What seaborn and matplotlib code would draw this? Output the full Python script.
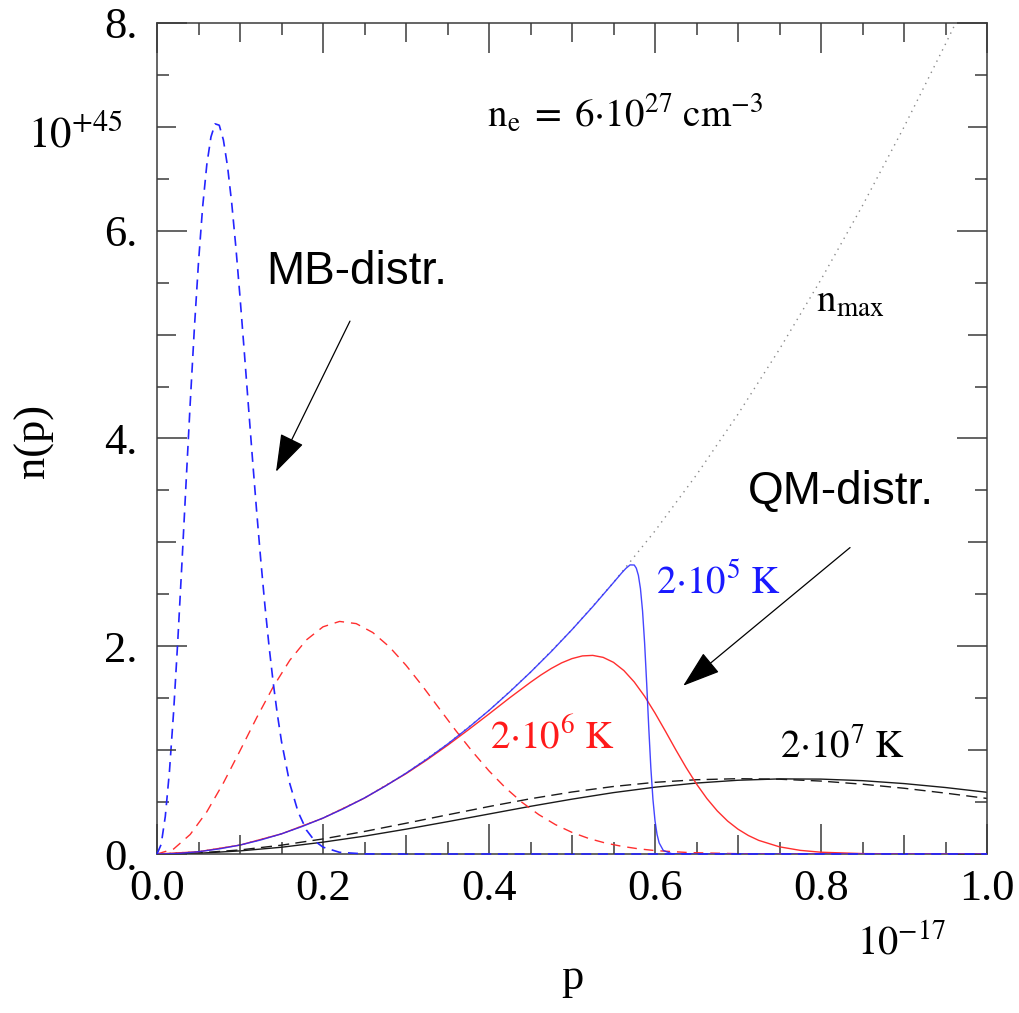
import matplotlib
matplotlib.use("Agg")
import matplotlib.pyplot as plt
from matplotlib.ticker import FixedLocator
import seaborn as sns

# momentum p in units of 1e-17 g cm/s, occupation n(p) in units of 1e+45
# Maxwell-Boltzmann, T = 2e5 K
p_mb5 = [0.0, 0.005, 0.01, 0.015, 0.02, 0.025, 0.03, 0.035, 0.04, 0.045, 0.05,
         0.055, 0.06, 0.065, 0.07, 0.075, 0.08, 0.085, 0.09, 0.095, 0.10,
         0.105, 0.11, 0.115, 0.12, 0.125, 0.13, 0.135, 0.14, 0.145, 0.15,
         0.16, 0.17, 0.18, 0.19, 0.20, 0.22, 0.25, 0.30, 0.4, 0.5, 0.6, 0.7,
         0.8, 0.9, 1.0]
n_mb5 = [0.0, 0.092, 0.362, 0.795, 1.367, 2.046, 2.793, 3.570, 4.338, 5.058,
         5.697, 6.230, 6.636, 6.903, 7.029, 7.016, 6.874, 6.619, 6.268, 5.843,
         5.363, 4.852, 4.328, 3.807, 3.305, 2.831, 2.394, 2.000, 1.650, 1.345,
         1.083, 0.677, 0.405, 0.231, 0.126, 0.066, 0.016, 0.001, 0.0, 0.0,
         0.0, 0.0, 0.0, 0.0, 0.0, 0.0]

# Maxwell-Boltzmann, T = 2e6 K
p_mb6 = [0.0, 0.02, 0.04, 0.06, 0.08, 0.10, 0.12, 0.14, 0.16, 0.18, 0.20,
         0.22, 0.24, 0.26, 0.28, 0.30, 0.32, 0.34, 0.36, 0.38, 0.40, 0.42,
         0.44, 0.46, 0.48, 0.50, 0.52, 0.54, 0.56, 0.58, 0.60, 0.64, 0.70,
         0.80, 0.90, 1.0]
n_mb6 = [0.0, 0.048, 0.188, 0.406, 0.684, 0.994, 1.311, 1.609, 1.865, 2.061,
         2.187, 2.239, 2.218, 2.132, 1.994, 1.817, 1.615, 1.401, 1.188, 0.986,
         0.800, 0.636, 0.496, 0.379, 0.283, 0.208, 0.150, 0.106, 0.074, 0.050,
         0.033, 0.014, 0.003, 0.0, 0.0, 0.0]

# Maxwell-Boltzmann, T = 2e7 K
p_mb7 = [0.0, 0.05, 0.10, 0.15, 0.20, 0.25, 0.30, 0.35, 0.40, 0.45, 0.50,
         0.55, 0.60, 0.65, 0.70, 0.75, 0.80, 0.85, 0.90, 0.95, 1.0]
n_mb7 = [0.0, 0.010, 0.039, 0.085, 0.145, 0.217, 0.296, 0.377, 0.457, 0.532,
         0.597, 0.650, 0.690, 0.715, 0.725, 0.720, 0.702, 0.672, 0.633, 0.586,
         0.535]

# maximal occupation n_max
p_max = [0.0, 0.05, 0.10, 0.15, 0.20, 0.25, 0.30, 0.35, 0.40, 0.45, 0.50,
         0.55, 0.60, 0.65, 0.70, 0.75, 0.80, 0.85, 0.90, 0.95, 0.962]
n_max = [0.0, 0.022, 0.086, 0.194, 0.346, 0.540, 0.778, 1.058, 1.382, 1.750,
         2.160, 2.614, 3.110, 3.650, 4.234, 4.860, 5.530, 6.242, 6.998, 7.798,
         7.996]

# Fermi-Dirac, T = 2e5 K
p_qm5 = [0.0, 0.025, 0.05, 0.075, 0.10, 0.125, 0.15, 0.175, 0.20, 0.225,
         0.25, 0.275, 0.30, 0.325, 0.35, 0.375, 0.40, 0.425, 0.45, 0.475,
         0.50, 0.525, 0.55, 0.555, 0.56, 0.565, 0.57, 0.575, 0.5775, 0.58,
         0.5825, 0.585, 0.5875, 0.59, 0.5925, 0.595, 0.5975, 0.60, 0.6025,
         0.605, 0.61, 0.62, 0.65, 0.8, 1.0]
n_qm5 = [0.0, 0.005, 0.022, 0.049, 0.086, 0.135, 0.194, 0.265, 0.346, 0.437,
         0.540, 0.653, 0.778, 0.913, 1.058, 1.215, 1.382, 1.561, 1.750, 1.949,
         2.160, 2.381, 2.613, 2.660, 2.707, 2.750, 2.783, 2.782, 2.751, 2.682,
         2.553, 2.340, 2.029, 1.637, 1.213, 0.829, 0.528, 0.320, 0.187,
         0.107, 0.034, 0.003, 0.0, 0.0, 0.0]

# Fermi-Dirac, T = 2e6 K
p_qm6 = [0.0, 0.05, 0.10, 0.15, 0.20, 0.25, 0.30, 0.325, 0.35, 0.375, 0.40,
         0.425, 0.45, 0.4625, 0.475, 0.4875, 0.50, 0.5125, 0.525, 0.5375,
         0.55, 0.5625, 0.575, 0.5875, 0.60, 0.6125, 0.625, 0.6375, 0.65,
         0.6625, 0.675, 0.6875, 0.70, 0.7125, 0.725, 0.75, 0.775, 0.80, 0.85,
         0.90, 1.0]
n_qm6 = [0.0, 0.022, 0.086, 0.194, 0.345, 0.538, 0.773, 0.905, 1.046, 1.195,
         1.348, 1.504, 1.653, 1.723, 1.786, 1.840, 1.881, 1.907, 1.912, 1.893,
         1.845, 1.766, 1.656, 1.518, 1.357, 1.183, 1.004, 0.832, 0.674,
         0.534, 0.415, 0.317, 0.239, 0.178, 0.131, 0.069, 0.035, 0.017, 0.004,
         0.001, 0.0]

# Fermi-Dirac, T = 2e7 K
p_qm7 = [0.0, 0.05, 0.10, 0.15, 0.20, 0.25, 0.30, 0.35, 0.40, 0.45, 0.50,
         0.55, 0.60, 0.65, 0.70, 0.75, 0.80, 0.85, 0.90, 0.95, 1.0]
n_qm7 = [0.0, 0.007, 0.030, 0.065, 0.114, 0.172, 0.239, 0.311, 0.385, 0.459,
         0.528, 0.591, 0.643, 0.683, 0.710, 0.723, 0.721, 0.706, 0.678, 0.640,
         0.594]

x_ticks = [0.0, 0.2, 0.4, 0.6, 0.8, 1.0]
x_ticklabels = ["0.0", "0.2", "0.4", "0.6", "0.8", "1.0"]
y_ticks = [0, 2, 4, 6, 8]
y_ticklabels = ["0.", "2.", "4.", "6.", "8."]

BLUE = "#2424ff"
RED = "#ff2e2e"
BLACK = "#1a1a1a"
FRAME = "#3a3a3a"

sns.set_style("ticks")
plt.rcParams["font.family"] = ["Liberation Serif", "DejaVu Serif"]
plt.rcParams["mathtext.fontset"] = "stix"
plt.rcParams["text.color"] = "black"
plt.rcParams["axes.labelcolor"] = "black"
plt.rcParams["xtick.labelcolor"] = "black"
plt.rcParams["ytick.labelcolor"] = "black"
plt.rcParams["axes.edgecolor"] = FRAME
plt.rcParams["axes.linewidth"] = 1.1

fig = plt.figure(figsize=(10.19, 10.13), dpi=100)
rect = [157 / 1019, 1 - 854 / 1013, 830 / 1019, 831 / 1013]
ax = fig.add_axes(rect)

line_kw = dict(ax=ax, errorbar=None, legend=False)
sns.lineplot(x=p_max, y=n_max, color="#8a8a8a", lw=1.0,
             linestyle=(0, (1, 3.5)), zorder=1, **line_kw)
sns.lineplot(x=p_qm7, y=n_qm7, color=BLACK, lw=1.0, zorder=2, **line_kw)
sns.lineplot(x=p_mb7, y=n_mb7, color=BLACK, lw=1.0,
             linestyle=(0, (8, 4.5)), zorder=2, **line_kw)
sns.lineplot(x=p_mb6, y=n_mb6, color=RED, lw=1.0,
             linestyle=(0, (7, 5)), zorder=3, **line_kw)
sns.lineplot(x=p_qm6, y=n_qm6, color=RED, lw=1.0, zorder=3, **line_kw)
sns.lineplot(x=p_qm5, y=n_qm5, color=BLUE, lw=1.0, alpha=0.85, zorder=4,
             **line_kw)
sns.lineplot(x=p_mb5, y=n_mb5, color=BLUE, lw=1.2,
             linestyle=(0, (6, 4)), zorder=5, clip_on=False, **line_kw)

ax.set_xlim(0, 1.0)
ax.set_ylim(0, 8)
ax.set_xticks(x_ticks)
ax.set_xticklabels(x_ticklabels)
ax.set_yticks(y_ticks)
ax.set_yticklabels(y_ticklabels)
ax.xaxis.set_minor_locator(FixedLocator([0.05 + 0.1 * i for i in range(10)]))
ax.yaxis.set_minor_locator(FixedLocator([0.5 + i for i in range(8)]))
ax.tick_params(which="major", direction="in", length=21.6, width=1.1,
               top=True, right=True, labelsize=32, color=FRAME)
ax.tick_params(axis="y", which="major", pad=14)
ax.tick_params(axis="x", which="major", pad=11)
ax.tick_params(which="minor", direction="in", length=8.6, width=1.1,
               top=True, right=True, color=FRAME)

# intermediate ticks at the odd tenths / odd integers
axm = fig.add_axes(rect)
axm.set_xlim(0, 1.0)
axm.set_ylim(0, 8)
axm.patch.set_visible(False)
for s in axm.spines.values():
    s.set_visible(False)
axm.set_xticks([0.1, 0.3, 0.5, 0.7, 0.9])
axm.set_yticks([1, 3, 5, 7])
axm.tick_params(direction="in", length=13.7, width=1.1, top=True, right=True,
                labelbottom=False, labelleft=False, color=FRAME)

ax.set_xlabel("p", fontsize=32)
ax.set_ylabel("n(p)", fontsize=32)
ax.xaxis.set_label_coords(0.5, -0.125)
ax.yaxis.set_label_coords(-0.124, 0.497)

ax.text(-0.042, 0.85, r"$\mathrm{10^{+45}}$", transform=ax.transAxes,
        fontsize=31, ha="right", va="baseline")
ax.text(0.843, -0.121, r"$\mathrm{10^{-17}}$", transform=ax.transAxes,
        fontsize=29, ha="left", va="baseline")

ax.text(0.397, 7.0, r"$\mathrm{n_e\;=\;6{\cdot}10^{27}\ cm^{-3}}$",
        fontsize=28, ha="left", va="baseline")
ax.text(0.794, 5.22, r"$\mathrm{n_{max}}$", fontsize=28, ha="left",
        va="baseline")
ax.text(0.601, 2.51, r"$\mathrm{2{\cdot}10^{5}\ K}$", fontsize=28,
        color="#1a1aff", ha="left", va="baseline")
ax.text(0.401, 1.02, r"$\mathrm{2{\cdot}10^{6}\ K}$", fontsize=28,
        color="#ff1a1a", ha="left", va="baseline")
ax.text(0.751, 0.926, r"$\mathrm{2{\cdot}10^{7}\ K}$", fontsize=28,
        color="black", ha="left", va="baseline")

ax.text(0.241, 5.49, "MB-distr.", fontsize=33, family="Liberation Sans",
        ha="center", va="baseline")
ax.text(0.824, 3.37, "QM-distr.", fontsize=33, family="Liberation Sans",
        ha="center", va="baseline")

arrow = dict(arrowstyle="-|>,head_length=1.2,head_width=0.4",
             mutation_scale=20, lw=0.9, color="black", shrinkA=0, shrinkB=0)
ax.annotate("", xy=(0.1434, 3.68), xytext=(0.2325, 5.13), arrowprops=arrow)
ax.annotate("", xy=(0.634, 1.62), xytext=(0.835, 2.95), arrowprops=arrow)

fig.savefig("out.png", dpi=100, facecolor="white")
